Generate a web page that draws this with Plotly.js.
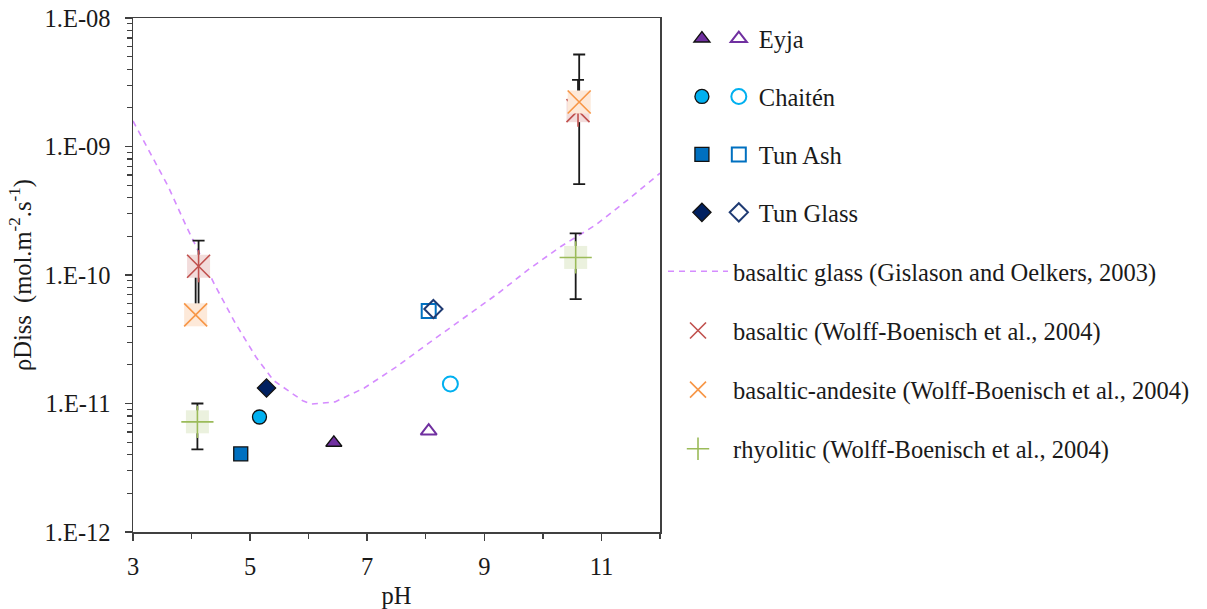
<!DOCTYPE html>
<html>
<head>
<meta charset="utf-8">
<script src="https://cdn.plot.ly/plotly-3.0.1.min.js"></script>
<style>
html,body{margin:0;padding:0;background:#fff;}
#chart{width:1207px;height:609px;}
</style>
</head>
<body>
<div id="chart"></div>
<script>
// ---------- data ----------
// basaltic glass dissolution curve (Gislason and Oelkers, 2003)
var glassPH   = [3.0, 3.3, 3.6, 3.9, 4.1, 4.4, 4.75, 5.1, 5.4, 5.9, 6.05, 6.45, 6.95, 7.5, 8.05, 8.6, 9.2, 9.75, 10.3, 10.9, 11.45, 12.0];
var glassRate = [1.58e-9, 8.7e-10, 4.9e-10, 2.45e-10, 1.58e-10, 8.3e-11, 4.2e-11, 2.3e-11, 1.51e-11, 1.05e-11, 9.9e-12, 1.03e-11, 1.32e-11, 1.93e-11, 2.95e-11, 4.47e-11, 7.0e-11, 1.10e-10, 1.66e-10, 2.45e-10, 3.85e-10, 6.2e-10];

// Wolff-Boenisch et al., 2004
var basalticPH    = [4.12, 10.60];
var basalticRate  = [1.17e-10, 1.9e-9];
var basalticUpper = [1.85e-10, 3.3e-9];
var basalticLower = [5.3e-11, 1.6e-9];

var andesitePH    = [4.07, 10.62];
var andesiteRate  = [4.9e-11, 2.22e-9];
var andesiteUpper = [1.05e-10, 5.2e-9];
var andesiteLower = [4.5e-11, 5.1e-10];

var rhyoliticPH    = [4.10, 10.56];
var rhyoliticRate  = [7.2e-12, 1.37e-10];
var rhyoliticUpper = [1.0e-11, 2.11e-10];
var rhyoliticLower = [4.4e-12, 6.5e-11];

// volcanic ash samples: [filled, open]
var eyjaPH = [6.43], eyjaRate = [4.95e-12];
var eyjaOpenPH = [8.05], eyjaOpenRate = [6.1e-12];
var chaitenPH = [5.16], chaitenRate = [7.85e-12];
var chaitenOpenPH = [8.42], chaitenOpenRate = [1.42e-11];
var tunAshPH = [4.84], tunAshRate = [4.05e-12];
var tunAshOpenPH = [8.05], tunAshOpenRate = [5.25e-11];
var tunGlassPH = [5.28], tunGlassRate = [1.32e-11];
var tunGlassOpenPH = [8.13], tunGlassOpenRate = [5.43e-11];

var yTickVals = [1e-12, 1e-11, 1e-10, 1e-9, 1e-8];
var yTickText = ['1.E-12', '1.E-11', '1.E-10', '1.E-09', '1.E-08'];
var xTickVals = [3, 5, 7, 9, 11];
var xTickText = ['3', '5', '7', '9', '11'];

// ---------- helpers ----------
function diff(a, b) { return a.map(function (v, i) { return v - b[i]; }); }
var FONT = 'Liberation Serif';
var TXT = '#1a1a1a';
var FS = 24.5;

function errTrace(x, y, up, lo) {
  return {
    x: x, y: y, type: 'scatter', mode: 'markers',
    marker: {size: 1, color: 'rgba(0,0,0,0)'},
    error_y: {type: 'data', symmetric: false, array: diff(up, y), arrayminus: diff(y, lo),
              color: '#1a1a1a', thickness: 1.8, width: 6},
    showlegend: false, hoverinfo: 'skip'
  };
}
function boxTrace(x, y, fill) {
  return {x: x, y: y, type: 'scatter', mode: 'markers',
    marker: {symbol: 'square', size: 23, color: fill, line: {width: 0}},
    showlegend: false, hoverinfo: 'skip'};
}
function symTrace(x, y, sym, col, name, show, rank) {
  return {x: x, y: y, type: 'scatter', mode: 'markers', name: name,
    marker: {symbol: sym, size: 23, color: col, line: {color: col, width: 1.6}},
    showlegend: show, legend: 'legend3', legendgroup: name, legendrank: rank};
}
function ptTrace(x, y, sym, fill, line, lw, name, legend, grp, size) {
  return {x: x, y: y, type: 'scatter', mode: 'markers', name: name,
    marker: {symbol: sym, size: size || 14, color: fill, line: {color: line, width: lw}},
    legend: legend, legendgroup: grp};
}

var traces = [
  {x: glassPH, y: glassRate, type: 'scatter', mode: 'lines',
   name: 'basaltic glass (Gislason and Oelkers, 2003)',
   line: {color: '#D58CFF', width: 1.6, dash: '6px,5px'},
   legend: 'legend3', legendgroup: 'glass', legendrank: 1},
  errTrace(rhyoliticPH, rhyoliticRate, rhyoliticUpper, rhyoliticLower),
  errTrace(basalticPH, basalticRate, basalticUpper, basalticLower),
  errTrace(andesitePH, andesiteRate, andesiteUpper, andesiteLower),
  boxTrace(basalticPH, basalticRate, '#F2DCDB'),
  symTrace(basalticPH, basalticRate, 'x-thin-open', '#C0504D', 'basaltic (Wolff-Boenisch et al., 2004)', true, 2),
  symTrace(basalticPH, basalticRate, 'line-ns-open', '#C0504D', 'basaltic (Wolff-Boenisch et al., 2004)', false, 2),
  boxTrace(andesitePH, andesiteRate, '#FDE9D9'),
  symTrace(andesitePH, andesiteRate, 'x-thin-open', '#F79646', 'basaltic-andesite (Wolff-Boenisch et al., 2004)', true, 3),
  boxTrace(rhyoliticPH, rhyoliticRate, '#EBF1DE'),
  symTrace(rhyoliticPH, rhyoliticRate, 'cross-thin-open', '#9BBB59', 'rhyolitic (Wolff-Boenisch et al., 2004)', true, 4),

  ptTrace(eyjaPH, eyjaRate, 'triangle-up', '#7030A0', '#111', 1.3, ' ', 'legend', 'e1'),
  ptTrace(chaitenPH, chaitenRate, 'circle', '#00B0F0', '#111', 1.3, ' ', 'legend', 'c1'),
  ptTrace(tunAshPH, tunAshRate, 'square', '#0070C0', '#111', 1.3, ' ', 'legend', 't1'),
  ptTrace(tunGlassPH, tunGlassRate, 'diamond', '#002060', '#111', 1.3, ' ', 'legend', 'g1'),

  ptTrace(eyjaOpenPH, eyjaOpenRate, 'triangle-up-open', '#7030A0', '#7030A0', 2, 'Eyja', 'legend2', 'e2'),
  ptTrace(chaitenOpenPH, chaitenOpenRate, 'circle-open', '#00B0F0', '#00B0F0', 2, 'Chaitén', 'legend2', 'c2', 15),
  ptTrace(tunAshOpenPH, tunAshOpenRate, 'square-open', '#0070C0', '#0070C0', 2, 'Tun Ash', 'legend2', 't2'),
  ptTrace(tunGlassOpenPH, tunGlassOpenRate, 'diamond-open', '#1F3B73', '#1F3B73', 2, 'Tun Glass', 'legend2', 'g2')
];

var legendBase = {
  font: {family: FONT, size: FS, color: TXT},
  bgcolor: 'rgba(0,0,0,0)', borderwidth: 0,
  traceorder: 'grouped', tracegroupgap: 23.1,
  xanchor: 'left', yanchor: 'top'
};
function lg(extra) { var o = {}; for (var k in legendBase) o[k] = legendBase[k]; for (var k2 in extra) o[k2] = extra[k2]; return o; }

var layout = {
  width: 1207, height: 609,
  margin: {l: 133, r: 545, t: 18, b: 77, pad: 0},
  paper_bgcolor: '#fff', plot_bgcolor: '#fff',
  font: {family: FONT, size: FS, color: TXT},
  showlegend: true,
  xaxis: {
    range: [3, 12], tickmode: 'array', tickvals: xTickVals, ticktext: xTickText,
    ticks: 'outside', ticklen: 7, tickwidth: 1.5, tickcolor: '#404040',
    minor: {tickmode: 'linear', tick0: 3, dtick: 1, ticks: 'outside', ticklen: 5, tickwidth: 1.3, tickcolor: '#404040', showgrid: false},
    showline: true, linecolor: '#404040', linewidth: 1.5, mirror: true,
    showgrid: false, zeroline: false,
    ticklabelstandoff: 5,
    tickfont: {family: FONT, size: FS, color: TXT},
    title: {text: 'pH', font: {family: FONT, size: FS, color: TXT}, standoff: 8}
  },
  yaxis: {
    type: 'log', range: [-12, -8], tickmode: 'array', tickvals: yTickVals, ticktext: yTickText,
    ticks: 'outside', ticklen: 7, tickwidth: 1.5, tickcolor: '#404040',
    minor: {dtick: 'D1', ticks: 'outside', ticklen: 5, tickwidth: 1.2, tickcolor: '#404040', showgrid: false},
    showline: true, linecolor: '#404040', linewidth: 1.5, mirror: true,
    showgrid: false, zeroline: false,
    ticklabelstandoff: 9,
    tickfont: {family: FONT, size: FS, color: TXT},
    title: {text: 'ρDiss  (mol.m<sup>-2</sup>.s<sup>-1</sup>)', font: {family: FONT, size: FS, color: TXT}, standoff: 6}
  },
  legend:  lg({x: 1.0416, y: 1.0037}),
  legend2: lg({x: 1.1116, y: 1.0037}),
  legend3: lg({x: 1.0057, y: 0.5508, itemwidth: 60, tracegroupgap: 24.3})
};

Plotly.newPlot('chart', traces, layout, {displayModeBar: false, staticPlot: true});
</script>
</body>
</html>
